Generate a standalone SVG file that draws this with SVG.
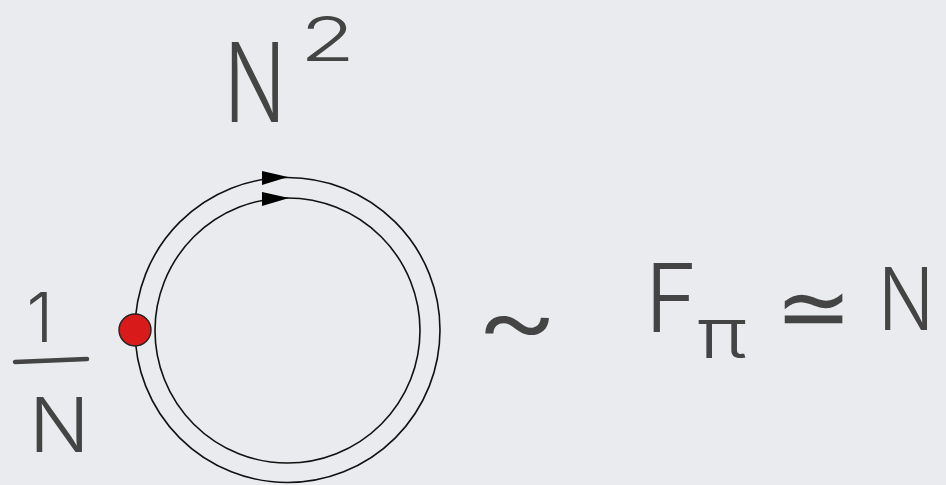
<svg xmlns="http://www.w3.org/2000/svg" width="946" height="485" viewBox="0 0 946 485">
<style>
.hw{font-family:"Inter","Open Sans","DejaVu Sans",sans-serif;font-weight:300;fill:#444}
.sym{font-family:"DejaVu Sans",sans-serif;font-weight:200;fill:#444}
.ring{fill:none;stroke:#111;stroke-width:1.6}
.arr{fill:#000}
</style>
<rect width="946" height="485" fill="#e9ebee"/>
<g id="loop">
<circle class="ring" cx="287.5" cy="330" r="152.5"/>
<circle class="ring" cx="287.5" cy="330.5" r="132.5"/>
</g>
<g id="connectors">
<polygon class="arr" points="262,171 288,177 262,185"/>
<polygon class="arr" points="262,192 289,198 262,206"/>
</g>
<g id="vertex">
<circle cx="135" cy="330" r="16" fill="#d91a1a" stroke="#222" stroke-width="1.4"/>
</g>
<g id="label-N2">
<text class="hw" transform="translate(224,122) scale(0.74,1)" font-size="110">N</text>
<text class="hw" transform="translate(300,61) scale(1.45,1)" font-size="62">2</text>
</g>
<g id="label-1N">
<text class="hw" x="40" y="342" font-size="68" text-anchor="middle">1</text>
<line x1="15" y1="362" x2="87" y2="359" stroke="#444" stroke-width="4.5" stroke-linecap="round"/>
<text class="hw" transform="translate(29,452) scale(1.05,1)" font-size="76">N</text>
</g>
<g id="label-Fpi">
<text class="hw" transform="translate(474,360) scale(1.1,1)" font-size="120">~</text>
<text class="hw" transform="translate(645,332) scale(0.95,1)" font-size="95">F</text>
<text class="hw" transform="translate(697,358) scale(1.22,1)" font-size="70">π</text>
<text class="sym" x="775" y="339" font-size="92">≃</text>
<text class="hw" transform="translate(878,330) scale(0.86,1)" font-size="86">N</text>
</g>
</svg>
